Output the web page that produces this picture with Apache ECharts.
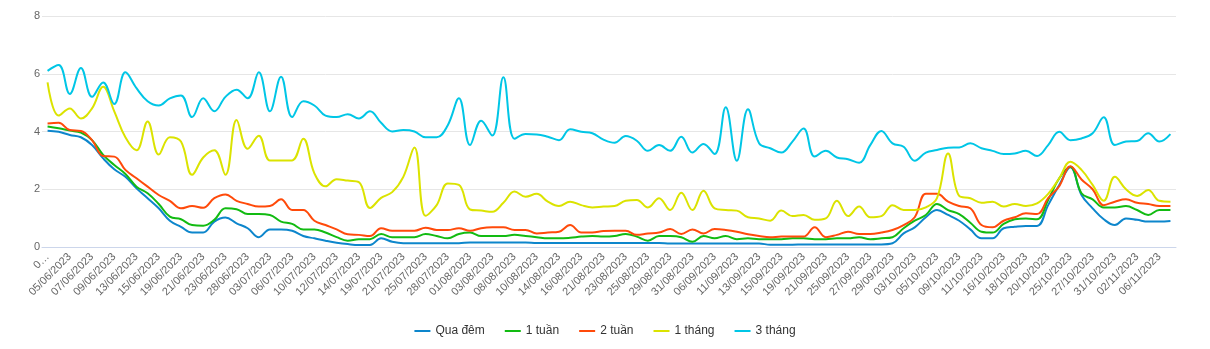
<!DOCTYPE html>
<html>
<head>
<meta charset="utf-8">
<script src="https://cdn.jsdelivr.net/npm/echarts@6/dist/echarts.min.js"></script>
<style>
  html, body { margin: 0; padding: 0; background: #fff; }
  #chart { width: 1210px; height: 349px; }
</style>
</head>
<body>
<div id="chart"></div>
<script>
// Trading days (interbank rate fixing dates)
const dates = [
  '01/06/2023','02/06/2023','05/06/2023','06/06/2023','07/06/2023','08/06/2023','09/06/2023','12/06/2023',
  '13/06/2023','14/06/2023','15/06/2023','16/06/2023','19/06/2023','20/06/2023','21/06/2023','22/06/2023',
  '23/06/2023','26/06/2023','28/06/2023','30/06/2023','03/07/2023','05/07/2023','06/07/2023','07/07/2023',
  '10/07/2023','11/07/2023','12/07/2023','13/07/2023','14/07/2023','17/07/2023','19/07/2023','20/07/2023',
  '21/07/2023','24/07/2023','25/07/2023','27/07/2023','28/07/2023','31/07/2023','01/08/2023','02/08/2023',
  '03/08/2023','07/08/2023','08/08/2023','09/08/2023','10/08/2023','11/08/2023','14/08/2023','15/08/2023',
  '16/08/2023','18/08/2023','21/08/2023','22/08/2023','23/08/2023','24/08/2023','25/08/2023','28/08/2023',
  '29/08/2023','30/08/2023','31/08/2023','05/09/2023','06/09/2023','08/09/2023','11/09/2023','12/09/2023',
  '13/09/2023','14/09/2023','15/09/2023','18/09/2023','19/09/2023','20/09/2023','21/09/2023','22/09/2023',
  '25/09/2023','26/09/2023','27/09/2023','28/09/2023','29/09/2023','02/10/2023','03/10/2023','04/10/2023',
  '05/10/2023','06/10/2023','09/10/2023','10/10/2023','11/10/2023','13/10/2023','16/10/2023','17/10/2023',
  '18/10/2023','19/10/2023','20/10/2023','24/10/2023','25/10/2023','26/10/2023','27/10/2023','30/10/2023',
  '31/10/2023','01/11/2023','02/11/2023','03/11/2023','06/11/2023','07/11/2023'
];

// Overnight
const quaDem = [
  4.03,3.99,3.88,3.8,3.53,3.07,2.69,2.43,2.03,1.69,1.34,0.91,0.7,0.5,0.5,0.88,
  1.02,0.82,0.65,0.34,0.61,0.61,0.56,0.38,0.3,0.22,0.15,0.1,0.07,0.07,0.3,0.18,
  0.13,0.13,0.13,0.13,0.13,0.13,0.16,0.16,0.16,0.16,0.16,0.16,0.14,0.14,0.14,0.14,
  0.14,0.14,0.14,0.14,0.14,0.14,0.14,0.14,0.12,0.12,0.12,0.12,0.12,0.12,0.12,0.12,
  0.12,0.08,0.08,0.08,0.09,0.09,0.09,0.09,0.09,0.09,0.09,0.09,0.13,0.47,0.68,1.03,
  1.28,1.11,0.91,0.61,0.3,0.3,0.65,0.7,0.73,0.73,1.45,2.15,2.76,1.8,1.34,0.96,
  0.76,0.99,0.94,0.88,0.88,0.9
];

// 1 week
const motTuan = [
  4.17,4.11,4.03,3.96,3.7,3.19,2.84,2.53,2.09,1.86,1.49,1.05,0.96,0.76,0.74,0.94,
  1.34,1.31,1.14,1.14,1.11,0.88,0.8,0.61,0.61,0.5,0.34,0.22,0.27,0.27,0.45,0.34,
  0.34,0.34,0.45,0.38,0.3,0.45,0.5,0.38,0.38,0.38,0.42,0.38,0.34,0.3,0.3,0.32,
  0.36,0.38,0.36,0.38,0.45,0.36,0.22,0.38,0.38,0.34,0.18,0.38,0.3,0.38,0.27,0.3,
  0.27,0.27,0.27,0.3,0.3,0.27,0.27,0.3,0.3,0.34,0.27,0.3,0.34,0.65,0.91,1.11,
  1.49,1.28,1.14,0.84,0.53,0.5,0.8,0.96,0.99,0.96,1.63,2.38,2.78,1.86,1.65,1.37,
  1.37,1.42,1.28,1.11,1.28,1.28
];

// 2 weeks
const haiTuan = [
  4.28,4.3,4.05,4.02,3.7,3.15,3.13,2.67,2.38,2.09,1.8,1.6,1.34,1.42,1.36,1.69,
  1.82,1.6,1.49,1.4,1.42,1.65,1.28,1.28,0.91,0.76,0.61,0.44,0.42,0.38,0.65,0.56,
  0.56,0.56,0.67,0.59,0.59,0.65,0.56,0.65,0.68,0.68,0.59,0.59,0.47,0.5,0.53,0.76,
  0.5,0.5,0.55,0.56,0.56,0.42,0.47,0.5,0.62,0.45,0.61,0.47,0.62,0.59,0.53,0.44,
  0.38,0.34,0.36,0.36,0.36,0.68,0.34,0.42,0.53,0.45,0.45,0.5,0.59,0.76,1.03,1.84,
  1.84,1.57,1.42,1.34,0.76,0.68,0.91,1.03,1.17,1.14,1.69,2.11,2.8,2.34,2.0,1.45,
  1.57,1.65,1.53,1.49,1.42,1.42
];

// 1 month
const motThang = [
  5.7,4.55,4.8,4.45,4.8,5.55,4.7,3.8,3.35,4.35,3.2,3.8,3.65,2.5,3.1,3.35,
  2.5,4.4,3.4,3.85,3.0,3.0,3.0,3.75,2.55,2.1,2.35,2.3,2.25,1.35,1.7,1.9,
  2.43,3.45,1.08,1.45,2.2,2.15,1.3,1.26,1.22,1.53,1.92,1.74,1.84,1.57,1.42,1.57,
  1.45,1.37,1.4,1.42,1.6,1.63,1.37,1.69,1.28,1.88,1.28,1.95,1.34,1.28,1.26,1.03,
  0.99,0.91,1.26,1.07,1.11,0.94,0.99,1.6,1.07,1.4,1.03,1.07,1.45,1.28,1.28,1.37,
  1.69,3.24,1.77,1.69,1.53,1.57,1.4,1.49,1.42,1.51,1.84,2.38,2.95,2.67,2.15,1.6,
  2.43,2.0,1.77,1.97,1.6,1.57
];

// 3 months
const baThang = [
  6.1,6.3,5.3,6.2,5.2,5.7,4.95,6.05,5.5,5.05,4.9,5.15,5.25,4.5,5.15,4.7,
  5.2,5.45,5.15,6.05,4.7,5.9,4.5,5.05,4.9,4.55,4.5,4.6,4.45,4.7,4.3,4.0,
  4.05,4.0,3.8,3.8,4.22,5.15,3.53,4.37,3.86,5.88,3.75,3.91,3.9,3.82,3.7,4.08,
  3.99,3.94,3.72,3.61,3.84,3.68,3.33,3.53,3.33,3.82,3.27,3.57,3.22,4.84,2.99,4.77,
  3.59,3.42,3.27,3.65,4.1,3.13,3.33,3.1,3.04,2.92,3.53,4.02,3.59,3.47,2.99,3.27,
  3.36,3.44,3.45,3.59,3.42,3.33,3.22,3.24,3.33,3.15,3.53,3.99,3.7,3.76,3.94,4.49,
  3.53,3.65,3.67,3.94,3.65,3.91
];

const seriesNames = ['Qua đêm', '1 tuần', '2 tuần', '1 tháng', '3 tháng'];
const seriesData = [quaDem, motTuan, haiTuan, motThang, baThang];
const colors = ['#0d86cc', '#12bb12', '#ff4a0a', '#dbe300', '#00c6e6'];

const yTicks = { min: 0, max: 8, interval: 2 };

const font = 'Arial, "Liberation Sans", Helvetica, sans-serif';
const chart = echarts.init(document.getElementById('chart'), null, { renderer: 'canvas' });

chart.setOption({
  animation: false,
  color: colors,
  grid: { left: 42, right: 34, top: 16, bottom: 102, containLabel: false },
  legend: {
    bottom: 7,
    left: 'center',
    icon: 'rect',
    itemWidth: 16,
    itemHeight: 2,
    itemGap: 20,
    textStyle: { color: '#333', fontSize: 12, fontFamily: font },
    data: seriesNames
  },
  xAxis: {
    type: 'category',
    data: dates,
    boundaryGap: true,
    axisLine: { lineStyle: { color: '#ccd6eb', width: 1 } },
    axisTick: { interval: 1, alignWithLabel: true, length: 10, lineStyle: { color: '#ccd6eb' } },
    axisLabel: {
      interval: 1,
      rotate: 45,
      margin: 8,
      color: '#666',
      fontSize: 11,
      fontFamily: font,
      formatter: (v, i) => (i === 0 ? v.charAt(0) + '…' : v)
    },
    splitLine: { show: false }
  },
  yAxis: {
    type: 'value',
    min: yTicks.min,
    max: yTicks.max,
    interval: yTicks.interval,
    axisLine: { show: false },
    axisTick: { show: false },
    axisLabel: { color: '#666', fontSize: 11, fontFamily: font, margin: 2 },
    splitLine: { lineStyle: { color: '#e6e6e6', width: 1 } }
  },
  series: seriesNames.map((name, k) => ({
    name,
    type: 'line',
    data: seriesData[k],
    smooth: 0.4,
    symbol: 'none',
    lineStyle: { width: 2, color: colors[k] },
    itemStyle: { color: colors[k] }
  }))
});
</script>
</body>
</html>
